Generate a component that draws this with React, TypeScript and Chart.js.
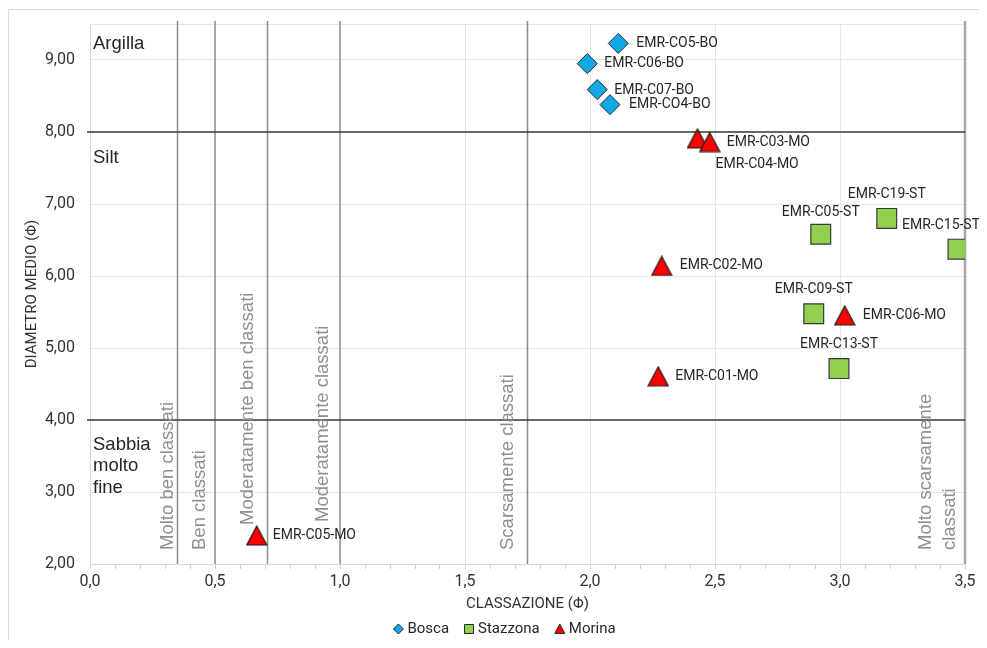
import React, { useEffect, useRef } from 'react';
import { Chart, registerables } from 'chart.js';

Chart.register(...registerables);

// ---- Data ----
const boscaLabels = ['EMR-CO5-BO', 'EMR-C06-BO', 'EMR-C07-BO', 'EMR-CO4-BO'];
const boscaX = [2.113, 1.989, 2.029, 2.08];
const boscaY = [9.23, 8.95, 8.59, 8.38];

const stazzonaLabels = ['EMR-C05-ST', 'EMR-C19-ST', 'EMR-C15-ST', 'EMR-C09-ST', 'EMR-C13-ST'];
const stazzonaX = [2.923, 3.187, 3.472, 2.895, 2.996];
const stazzonaY = [6.58, 6.8, 6.373, 5.476, 4.714];

const morinaLabels = ['EMR-C04-MO', 'EMR-C03-MO', 'EMR-C02-MO', 'EMR-C06-MO', 'EMR-C01-MO', 'EMR-C05-MO'];
const morinaX = [2.43, 2.479, 2.287, 3.019, 2.273, 0.667];
const morinaY = [7.91, 7.86, 6.14, 5.453, 4.607, 2.395];

// sorting class limits (x) and grain class limits (y)
const sortingLimits = [0.35, 0.5, 0.71, 1.0, 1.75, 3.5];
const sortingNames = [
  ['Molto ben classati'],
  ['Ben classati'],
  ['Moderatamente ben classati'],
  ['Moderatamente classati'],
  ['Scarsamente classati'],
  ['Molto scarsamente', 'classati'],
];
const grainLimits = [4, 8];
const grainNames = [['Argilla'], ['Silt'], ['Sabbia', 'molto', 'fine']];
const grainLabelValues = [9.222, 7.646, 3.659];

const xMin = 0, xMax = 3.5, yMin = 2, yMax = 9.5;

// ---- label layout (pixels) ----
const boscaLabelOffsets = [[18, 0], [17, 0], [17, 1], [19, 0]];
const stazzonaLabelOffsets = [[0, -22], [0, -24], [-17, -24], [0, -24], [0, -24]];
const morinaLabelOffsets = [[18, 26], [17, 0], [18, 0], [18, 0], [17, 0], [16, 0]];
const sortingLabelDx = [-10, -15, -20, -17.5, -19.5, -39];
const sortingLabelRaise = [14, 14, 39, 42, 14, 14];

const fmt = (v: number, d: number) => v.toFixed(d).replace('.', ',');
const TICK_FONT = 'Roboto';
const W = 979;
const H = 632;

function makeTriangle(w: number, h: number, fill: string, stroke: string) {
  const c = document.createElement('canvas');
  c.width = w + 2;
  c.height = h + 2;
  const g = c.getContext('2d')!;
  g.beginPath();
  g.moveTo(c.width / 2, 1);
  g.lineTo(c.width - 1, c.height - 1);
  g.lineTo(1, c.height - 1);
  g.closePath();
  g.fillStyle = fill;
  g.fill();
  g.lineWidth = 1.2;
  g.strokeStyle = stroke;
  g.stroke();
  return c;
}

const overlayPlugin = {
  id: 'overlay',
  beforeDatasetsDraw(chart: any) {
    const { ctx, chartArea: ca, scales } = chart;
    const x = scales.x, y = scales.y;
    ctx.save();
    sortingLimits.forEach((v, i) => {
      const px = x.getPixelForValue(v);
      ctx.beginPath();
      ctx.strokeStyle = i === sortingLimits.length - 1 ? '#a6a6a6' : '#8c8c8c';
      ctx.lineWidth = i === sortingLimits.length - 1 ? 2.5 : 1.5;
      ctx.moveTo(px, ca.top - 3);
      ctx.lineTo(px, ca.bottom);
      ctx.stroke();
    });
    grainLimits.forEach((v) => {
      const py = y.getPixelForValue(v);
      ctx.beginPath();
      ctx.strokeStyle = '#3a3a3a';
      ctx.lineWidth = 1.3;
      ctx.moveTo(ca.left - 3, py);
      ctx.lineTo(ca.right, py);
      ctx.stroke();
    });
    ctx.font = '18.5px "Liberation Sans", Arial, sans-serif';
    ctx.fillStyle = '#8f8f8f';
    ctx.textAlign = 'left';
    ctx.textBaseline = 'middle';
    sortingLimits.forEach((v, i) => {
      const px = x.getPixelForValue(v) + sortingLabelDx[i];
      const by = ca.bottom - sortingLabelRaise[i];
      ctx.save();
      ctx.translate(px, by);
      ctx.rotate(-Math.PI / 2);
      sortingNames[i].forEach((t, j) => ctx.fillText(t, 0, j * 24));
      ctx.restore();
    });
    ctx.fillStyle = '#262626';
    grainNames.forEach((lines, i) => {
      const py = y.getPixelForValue(grainLabelValues[i]);
      lines.forEach((t, j) => ctx.fillText(t, ca.left + 3, py + j * 21.5));
    });
    ctx.restore();
  },
  afterDatasetsDraw(chart: any) {
    const { ctx } = chart;
    ctx.save();
    ctx.font = `14px ${TICK_FONT}`;
    ctx.fillStyle = '#262626';
    ctx.textBaseline = 'middle';
    chart.data.datasets.forEach((ds: any, di: number) => {
      const meta = chart.getDatasetMeta(di);
      ds.pointLabels.forEach((t: string, i: number) => {
        const el = meta.data[i];
        const [dx, dy] = ds.labelOffsets[i];
        ctx.textAlign = ds.labelAlign;
        ctx.fillText(t, el.x + dx, el.y + dy);
      });
    });
    ctx.restore();
  },
  afterDraw(chart: any) {
    const { ctx, width } = chart;
    ctx.save();
    ctx.strokeStyle = '#d9d9d9';
    ctx.lineWidth = 1;
    ctx.beginPath();
    ctx.moveTo(0.5, chart.height);
    ctx.lineTo(0.5, 1.5);
    ctx.lineTo(width, 1.5);
    ctx.stroke();
    ctx.font = `15px ${TICK_FONT}`;
    ctx.textBaseline = 'middle';
    ctx.textAlign = 'left';
    const ds = chart.data.datasets;
    const markerW = 10, gap = 4, spacing = 15;
    const widths = ds.map((d: any) => markerW + gap + ctx.measureText(d.label).width);
    const total = widths.reduce((a: number, b: number) => a + b, 0) + spacing * (ds.length - 1);
    let cx = width / 2 + 7 - total / 2;
    const ly = 621;
    ds.forEach((d: any, i: number) => {
      const mx = cx + markerW / 2;
      ctx.beginPath();
      if (d.legendShape === 'diamond') {
        ctx.moveTo(mx, ly - 5);
        ctx.lineTo(mx + 5, ly);
        ctx.lineTo(mx, ly + 5);
        ctx.lineTo(mx - 5, ly);
      } else if (d.legendShape === 'square') {
        ctx.rect(mx - 4.5, ly - 4.5, 9, 9);
      } else {
        ctx.moveTo(mx, ly - 5);
        ctx.lineTo(mx + 5, ly + 4.5);
        ctx.lineTo(mx - 5, ly + 4.5);
      }
      ctx.closePath();
      ctx.fillStyle = d.legendFill;
      ctx.fill();
      ctx.strokeStyle = '#262626';
      ctx.lineWidth = 1;
      ctx.stroke();
      ctx.fillStyle = '#262626';
      ctx.fillText(d.label, cx + markerW + gap, ly);
      cx += widths[i] + spacing;
    });
    ctx.restore();
  },
};

export default function App() {
  const ref = useRef<HTMLCanvasElement>(null);
  useEffect(() => {
    if (!ref.current) return;
    const tri = makeTriangle(20, 19, '#ff0000', '#1a1a1a');
    const chart = new Chart(ref.current, {
      type: 'scatter',
      data: {
        datasets: [
          {
            label: 'Bosca',
            data: boscaX.map((v, i) => ({ x: v, y: boscaY[i] })),
            pointStyle: 'rectRot',
            pointRadius: 10,
            backgroundColor: '#12a8e8',
            borderColor: '#262626',
            borderWidth: 1,
            pointLabels: boscaLabels,
            labelOffsets: boscaLabelOffsets,
            labelAlign: 'left',
            legendShape: 'diamond',
            legendFill: '#12a8e8',
          } as any,
          {
            label: 'Stazzona',
            data: stazzonaX.map((v, i) => ({ x: v, y: stazzonaY[i] })),
            pointStyle: 'rect',
            pointRadius: 14,
            backgroundColor: '#92d050',
            borderColor: '#3a3a3a',
            borderWidth: 1.2,
            pointLabels: stazzonaLabels,
            labelOffsets: stazzonaLabelOffsets,
            labelAlign: 'center',
            legendShape: 'square',
            legendFill: '#92d050',
          } as any,
          {
            label: 'Morina',
            data: morinaX.map((v, i) => ({ x: v, y: morinaY[i] })),
            pointStyle: tri,
            pointRadius: 11,
            backgroundColor: '#ff0000',
            borderColor: '#1a1a1a',
            borderWidth: 1,
            pointLabels: morinaLabels,
            labelOffsets: morinaLabelOffsets,
            labelAlign: 'left',
            legendShape: 'triangle',
            legendFill: '#ff0000',
          } as any,
        ],
      },
      options: {
        responsive: false,
        animation: false,
        events: [],
        layout: { padding: { left: 0, right: 22, top: 16, bottom: 0 } },
        plugins: { legend: { display: false }, tooltip: { enabled: false } },
        scales: {
          x: {
            type: 'linear',
            min: xMin,
            max: xMax,
            afterFit: (s: any) => {
              s.height = 76;
              s.paddingLeft = 0;
              s.paddingRight = 0;
            },
            ticks: {
              stepSize: 0.1,
              autoSkip: false,
              maxRotation: 0,
              padding: 3,
              color: '#333333',
              font: { family: TICK_FONT, size: 16 },
              callback: (value: any) => {
                const v = Number(value);
                return Math.abs(v * 2 - Math.round(v * 2)) < 1e-6 ? fmt(v, 1) : '';
              },
            },
            grid: {
              color: (c: any) => {
                const v = c.tick ? c.tick.value : 0;
                return Math.abs(v * 2 - Math.round(v * 2)) < 1e-6 ? '#e6e6e6' : 'rgba(0,0,0,0)';
              },
              tickColor: '#d0d0d0',
              tickLength: 5,
            },
            border: { color: '#d9d9d9' },
            title: {
              display: true,
              text: 'CLASSAZIONE (Φ)',
              color: '#333333',
              font: { family: TICK_FONT, size: 15 },
              padding: { top: 0, bottom: 27 },
            },
          },
          y: {
            type: 'linear',
            min: yMin,
            max: yMax,
            afterFit: (s: any) => {
              s.width = 82;
              s.paddingTop = 0;
              s.paddingBottom = 0;
            },
            ticks: {
              stepSize: 1,
              padding: 15,
              color: '#333333',
              font: { family: TICK_FONT, size: 16 },
              callback: (value: any) => {
                const v = Number(value);
                return Math.abs(v - Math.round(v)) < 1e-6 ? fmt(v, 2) : '';
              },
            },
            grid: { color: '#e6e6e6', drawTicks: false },
            border: { color: '#d9d9d9' },
            title: {
              display: true,
              text: 'DIAMETRO MEDIO (Φ)',
              color: '#333333',
              font: { family: TICK_FONT, size: 15 },
              padding: { top: 15, bottom: 0 },
            },
          },
        },
      } as any,
      plugins: [overlayPlugin],
    });
    return () => chart.destroy();
  }, []);
  return (
    <div style={{ width: W, height: H }}>
      <canvas ref={ref} width={W} height={H} style={{ display: 'block', width: W, height: H }} />
    </div>
  );
}
